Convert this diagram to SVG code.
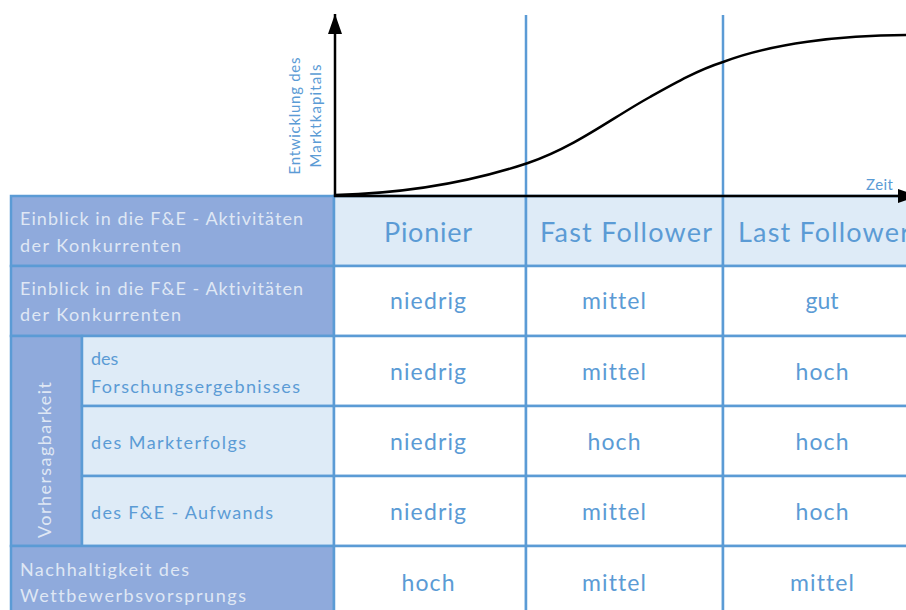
<svg xmlns="http://www.w3.org/2000/svg" width="906" height="610" viewBox="0 0 906 610">
  <style>
    .dark { fill: #8faadc; stroke: #5b9bd5; stroke-width: 2.5; }
    .light { fill: #deebf7; stroke: #5b9bd5; stroke-width: 2.5; }
    .plain { fill: #ffffff; stroke: #5b9bd5; stroke-width: 2.5; }
    .guide { stroke: #5b9bd5; stroke-width: 2.5; fill: none; }
    .axis { stroke: #000000; stroke-width: 2.5; fill: none; }
    text { font-family: Lato, "Open Sans", "Liberation Sans", sans-serif; font-variant-ligatures: none; }
    .lbl { fill: #dfe7f4; font-size: 18px; }
    .sub { fill: #5b9bd5; font-size: 18px; }
    .head { fill: #5b9bd5; font-size: 27px; text-anchor: middle; }
    .val { fill: #5b9bd5; font-size: 23px; text-anchor: middle; }
    .small { fill: #5b9bd5; font-size: 15px; }
  </style>
  <defs>
    <marker id="arrow" viewBox="0 0 20 14" refX="20" refY="7" markerWidth="20" markerHeight="14" markerUnits="userSpaceOnUse" orient="auto">
      <path d="M0,0 L20,7 L0,14 Z" fill="#000000"/>
    </marker>
  </defs>

  <rect width="906" height="610" fill="#ffffff"/>

  <!-- phase separators above the table -->
  <g id="phase-lines">
    <line class="guide" x1="526" y1="15" x2="526" y2="196"/>
    <line class="guide" x1="723" y1="15" x2="723" y2="196"/>
  </g>

  <!-- left label column -->
  <g id="row-insight">
    <rect class="dark" x="11" y="196" width="323" height="70"/>
    <text class="lbl" x="20" y="225" textLength="283" lengthAdjust="spacing">Einblick in die F&amp;E - Aktivitäten</text>
    <text class="lbl" x="20" y="252" textLength="161" lengthAdjust="spacing">der Konkurrenten</text>
  </g>
  <g id="row-insight-2">
    <rect class="dark" x="11" y="266" width="323" height="70"/>
    <text class="lbl" x="20" y="295" textLength="283" lengthAdjust="spacing">Einblick in die F&amp;E - Aktivitäten</text>
    <text class="lbl" x="20" y="321" textLength="161" lengthAdjust="spacing">der Konkurrenten</text>
  </g>
  <g id="group-predictability">
    <rect class="dark" x="11" y="336" width="71" height="210"/>
    <text class="lbl" transform="translate(51,460) rotate(-90)" text-anchor="middle" font-size="19" textLength="156" lengthAdjust="spacing">Vorhersagbarkeit</text>
  </g>
  <g id="row-research">
    <rect class="light" x="82" y="336" width="252" height="70"/>
    <text class="sub" x="91" y="365">des</text>
    <text class="sub" x="91" y="393" textLength="209" lengthAdjust="spacing">Forschungsergebnisses</text>
  </g>
  <g id="row-market">
    <rect class="light" x="82" y="406" width="252" height="70"/>
    <text class="sub" x="91" y="449" textLength="155" lengthAdjust="spacing">des Markterfolgs</text>
  </g>
  <g id="row-effort">
    <rect class="light" x="82" y="476" width="252" height="70"/>
    <text class="sub" x="91" y="519" textLength="182" lengthAdjust="spacing">des F&amp;E - Aufwands</text>
  </g>
  <g id="row-sustain">
    <rect class="dark" x="11" y="546" width="323" height="70"/>
    <text class="lbl" x="20" y="576" textLength="169" lengthAdjust="spacing">Nachhaltigkeit des</text>
    <text class="lbl" x="20" y="602" textLength="226" lengthAdjust="spacing">Wettbewerbsvorsprungs</text>
  </g>

  <!-- column headers -->
  <g id="col-pionier">
    <rect class="light" x="334" y="196" width="192" height="70"/>
    <text class="head" x="428" y="242" textLength="88" lengthAdjust="spacing">Pionier</text>
  </g>
  <g id="col-fast">
    <rect class="light" x="526" y="196" width="197" height="70"/>
    <text class="head" x="626" y="242" textLength="172" lengthAdjust="spacing">Fast Follower</text>
  </g>
  <g id="col-last">
    <rect class="light" x="723" y="196" width="197" height="70"/>
    <text class="head" x="824" y="242" textLength="172" lengthAdjust="spacing">Last Follower</text>
  </g>

  <!-- value cells -->
  <g id="values">
    <rect class="plain" x="334" y="266" width="192" height="70"/>
    <rect class="plain" x="526" y="266" width="197" height="70"/>
    <rect class="plain" x="723" y="266" width="197" height="70"/>
    <rect class="plain" x="334" y="336" width="192" height="70"/>
    <rect class="plain" x="526" y="336" width="197" height="70"/>
    <rect class="plain" x="723" y="336" width="197" height="70"/>
    <rect class="plain" x="334" y="406" width="192" height="70"/>
    <rect class="plain" x="526" y="406" width="197" height="70"/>
    <rect class="plain" x="723" y="406" width="197" height="70"/>
    <rect class="plain" x="334" y="476" width="192" height="70"/>
    <rect class="plain" x="526" y="476" width="197" height="70"/>
    <rect class="plain" x="723" y="476" width="197" height="70"/>
    <rect class="plain" x="334" y="546" width="192" height="70"/>
    <rect class="plain" x="526" y="546" width="197" height="70"/>
    <rect class="plain" x="723" y="546" width="197" height="70"/>

    <text class="val" x="428" y="309" textLength="76" lengthAdjust="spacing">niedrig</text>
    <text class="val" x="614" y="309" textLength="64" lengthAdjust="spacing">mittel</text>
    <text class="val" x="822" y="309">gut</text>

    <text class="val" x="428" y="380" textLength="76" lengthAdjust="spacing">niedrig</text>
    <text class="val" x="614" y="380" textLength="64" lengthAdjust="spacing">mittel</text>
    <text class="val" x="822" y="380" textLength="53" lengthAdjust="spacing">hoch</text>

    <text class="val" x="428" y="450" textLength="76" lengthAdjust="spacing">niedrig</text>
    <text class="val" x="614" y="450" textLength="53" lengthAdjust="spacing">hoch</text>
    <text class="val" x="822" y="450" textLength="53" lengthAdjust="spacing">hoch</text>

    <text class="val" x="428" y="520" textLength="76" lengthAdjust="spacing">niedrig</text>
    <text class="val" x="614" y="520" textLength="64" lengthAdjust="spacing">mittel</text>
    <text class="val" x="822" y="520" textLength="53" lengthAdjust="spacing">hoch</text>

    <text class="val" x="428" y="591" textLength="53" lengthAdjust="spacing">hoch</text>
    <text class="val" x="614" y="591" textLength="64" lengthAdjust="spacing">mittel</text>
    <text class="val" x="822" y="591" textLength="64" lengthAdjust="spacing">mittel</text>
  </g>

  <!-- axes and market capital curve -->
  <g id="connectors">
    <line class="axis" x1="335" y1="197" x2="335" y2="14" marker-end="url(#arrow)"/>
    <line class="axis" x1="334" y1="196" x2="918" y2="196" marker-end="url(#arrow)"/>
    <path class="axis" d="M335,195 C420,193 480,179 528,163 C575,147 612,118 650,97 C675,83 698,70 723,62 C770,44 840,35 906,35"/>
  </g>

  <g id="axis-labels">
    <text class="small" transform="translate(300,116) rotate(-90)" text-anchor="middle" textLength="117" lengthAdjust="spacing">Entwicklung des</text>
    <text class="small" transform="translate(321,116) rotate(-90)" text-anchor="middle" textLength="103" lengthAdjust="spacing">Marktkapitals</text>
    <text class="small" x="866" y="190" textLength="27" lengthAdjust="spacing">Zeit</text>
  </g>
</svg>
